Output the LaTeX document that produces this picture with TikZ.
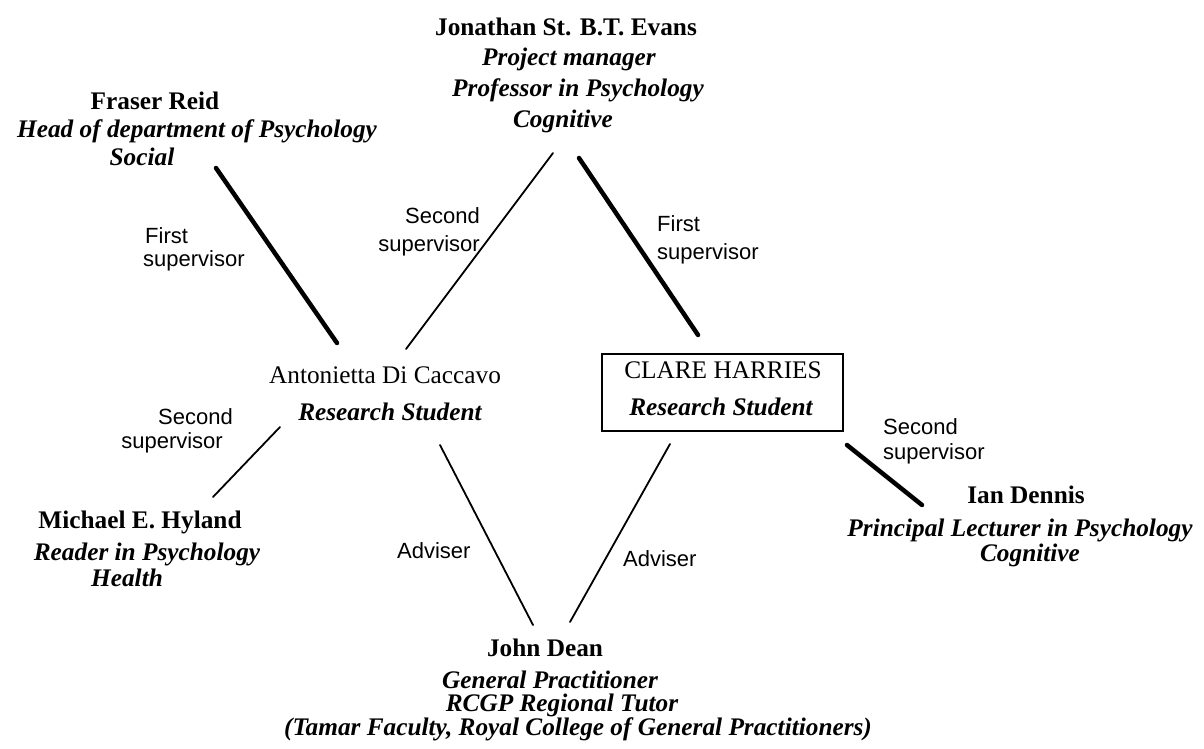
\documentclass[tikz,border=0pt]{standalone}
\usepackage{fontspec}
\setmainfont{Liberation Serif}
\setsansfont{Liberation Sans}
\begin{document}
\begin{tikzpicture}[x=1pt,y=-1pt,
  nm/.style={inner sep=0pt,text height=22pt,text depth=6pt,font=\fontsize{25.3}{30}\selectfont\bfseries},
  nmr/.style={inner sep=0pt,text height=22pt,text depth=6pt,font=\fontsize{25.3}{30}\selectfont},
  role/.style={inner sep=0pt,text height=22pt,text depth=6pt,font=\fontsize{25.3}{30}\selectfont\bfseries\itshape},
  lbl/.style={inner sep=0pt,text height=17pt,text depth=4pt,font=\fontsize{22}{26}\sffamily},
  thickln/.style={line width=4.5pt,line cap=round},
  thinln/.style={line width=1.8pt,line cap=round}]
\useasboundingbox (0,0) rectangle (1204,749);
% Evans
\node[nm] (ev1) at (566,28) {Jonathan St. B.T. Evans};
\node[role] (ev2) at (569,58) {Project manager};
\node[role] (ev3) at (578,89) {Professor in Psychology};
\node[role] (ev4) at (563,120) {Cognitive};
% Fraser
\node[nm] (fr1) at (155,102) {Fraser Reid};
\node[role] (fr2) at (197,130) {Head of department of Psychology};
\node[role] (fr3) at (142,157) {Social};
% Antonietta
\node[nmr] (an1) at (385,375) {Antonietta Di Caccavo};
\node[role] (an2) at (390,412) {Research Student};
% Clare
\node[draw,line width=1.6pt,minimum width=241pt,minimum height=77pt,inner sep=0pt] (clare) at (722.5,392.5) {};
\node[nmr] (cl1) at (723,370) {CLARE HARRIES};
\node[role] (cl2) at (721,407) {Research Student};
% Hyland
\node[nm] (hy1) at (140,520) {Michael E. Hyland};
\node[role] (hy2) at (147,552) {Reader in Psychology};
\node[role] (hy3) at (127,578) {Health};
% Ian Dennis
\node[nm] (id1) at (1026,495) {Ian Dennis};
\node[role] (id2) at (1020,528) {Principal Lecturer in Psychology};
\node[role] (id3) at (1030,553) {Cognitive};
% John Dean
\node[nm] (jd1) at (545,648) {John Dean};
\node[role] (jd2) at (550,680) {General Practitioner};
\node[role] (jd3) at (562,703) {RCGP Regional Tutor};
\node[role] (jd4) at (578,727) {(Tamar Faculty, Royal College of General Practitioners)};
% connector end points
\coordinate (frA) at (216,168);
\coordinate (anF) at (337,343);
\coordinate (evA) at (553,153);
\coordinate (anE) at (406,349);
\coordinate (evC) at (579,158);
\coordinate (clE) at (698,335);
\coordinate (anH) at (280,427);
\coordinate (hyA) at (213,497);
\coordinate (anD) at (440,445);
\coordinate (jdA) at (533,625);
\coordinate (clD) at (670,444);
\coordinate (jdC) at (570,622);
\coordinate (clI) at (847,445);
\coordinate (idC) at (922,505);
\draw[thickln] (frA) -- (anF);
\draw[thinln] (evA) -- (anE);
\draw[thickln] (evC) -- (clE);
\draw[thinln] (anH) -- (hyA);
\draw[thinln] (anD) -- (jdA);
\draw[thinln] (clD) -- (jdC);
\draw[thickln] (clI) -- (idC);
% labels
\node[lbl,anchor=west] (l1a) at (145,237) {First};
\node[lbl,anchor=west] (l1b) at (143,260) {supervisor};
\node[lbl,anchor=east] (l2a) at (480,217) {Second};
\node[lbl,anchor=east] (l2b) at (480,245) {supervisor};
\node[lbl,anchor=west] (l3a) at (657,225) {First};
\node[lbl,anchor=west] (l3b) at (657,253) {supervisor};
\node[lbl,anchor=east] (l4a) at (233,418) {Second};
\node[lbl,anchor=east] (l4b) at (223,442) {supervisor};
\node[lbl,anchor=west] (l5a) at (883,428) {Second};
\node[lbl,anchor=west] (l5b) at (883,453) {supervisor};
\node[lbl,anchor=west] (l6) at (397,552) {Adviser};
\node[lbl,anchor=west] (l7) at (623,560) {Adviser};
\end{tikzpicture}
\end{document}
